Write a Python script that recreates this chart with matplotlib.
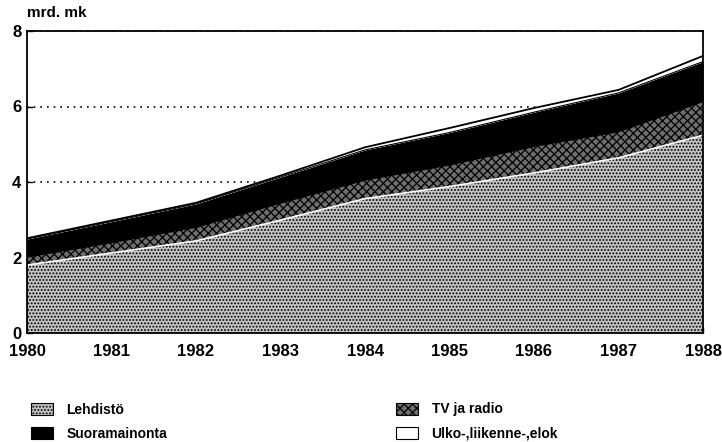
import matplotlib.pyplot as plt
from matplotlib.patches import Patch

plt.rcParams['font.family'] = ['Liberation Sans', 'DejaVu Sans']
plt.rcParams['hatch.linewidth'] = 0.9

# Data (mrd. mk)
years = [1980, 1981, 1982, 1983, 1984, 1985, 1986, 1987, 1988]
lehdisto = [1.80, 2.12, 2.44, 2.99, 3.56, 3.88, 4.24, 4.64, 5.24]
tv_radio = [0.21, 0.27, 0.36, 0.45, 0.49, 0.57, 0.70, 0.69, 0.89]
suora = [0.48, 0.56, 0.62, 0.69, 0.80, 0.86, 0.91, 1.03, 1.06]
ulko = [0.02, 0.03, 0.03, 0.04, 0.07, 0.12, 0.11, 0.08, 0.15]

labels = ['Lehdistö', 'TV ja radio', 'Suoramainonta', 'Ulko-,liikenne-,elok']
faces = ['#c4c4c4', '#6e6e6e', 'black', 'white']
hatches = ['.....', 'xxxx', None, None]

fig = plt.figure(figsize=(7.22, 4.42), dpi=100)
ax = fig.add_axes([27 / 722, 1 - 333 / 442, 676 / 722, 302 / 442])

# dotted grid behind the areas
ax.set_axisbelow(True)
ax.grid(axis='y', linestyle=(0, (1, 3)), color='black', linewidth=1.2)

polys = ax.stackplot(years, lehdisto, tv_radio, suora, ulko,
                     colors=faces, hatch=hatches, edgecolor='black', linewidth=0)

# boundary lines
lt = list(lehdisto)
tt = [a + b for a, b in zip(lt, tv_radio)]
st = [a + b for a, b in zip(tt, suora)]
ut = [a + b for a, b in zip(st, ulko)]
ax.plot(years, lt, color='white', linewidth=1.2)
ax.plot(years, st, color='black', linewidth=0.8)
ax.plot(years, ut, color='black', linewidth=1.3)

ax.set_xlim(1980, 1988)
ax.set_ylim(0, 8)
ax.set_xticks(years)
ax.set_yticks([0, 2, 4, 6, 8])
ax.tick_params(direction='in', length=4, width=1, labelsize=12, pad=4)
ax.tick_params(axis='x', pad=8)
for lab in ax.get_xticklabels() + ax.get_yticklabels():
    lab.set_fontweight('bold')
for s in ax.spines.values():
    s.set_linewidth(1.3)

ax.text(0.0, 1.035, 'mrd. mk', transform=ax.transAxes, fontsize=11,
        fontweight='bold', ha='left', va='bottom')

handles = [Patch(facecolor=f, hatch=h, edgecolor='black', linewidth=0.8, label=l)
           for f, h, l in zip(faces, hatches, labels)]

leg_kw = dict(frameon=False, handlelength=1.6, handleheight=1.0,
              labelspacing=0.75, handletextpad=1.0, loc='upper left',
              prop={'weight': 'bold', 'size': 10})
fig.legend([handles[0], handles[2]], [labels[0], labels[2]],
           bbox_to_anchor=(18 / 722, 1 - 390 / 442), **leg_kw)
fig.legend([handles[1], handles[3]], [labels[1], labels[3]],
           bbox_to_anchor=(383 / 722, 1 - 390 / 442), **leg_kw)

fig.savefig('out.png', dpi=100)
